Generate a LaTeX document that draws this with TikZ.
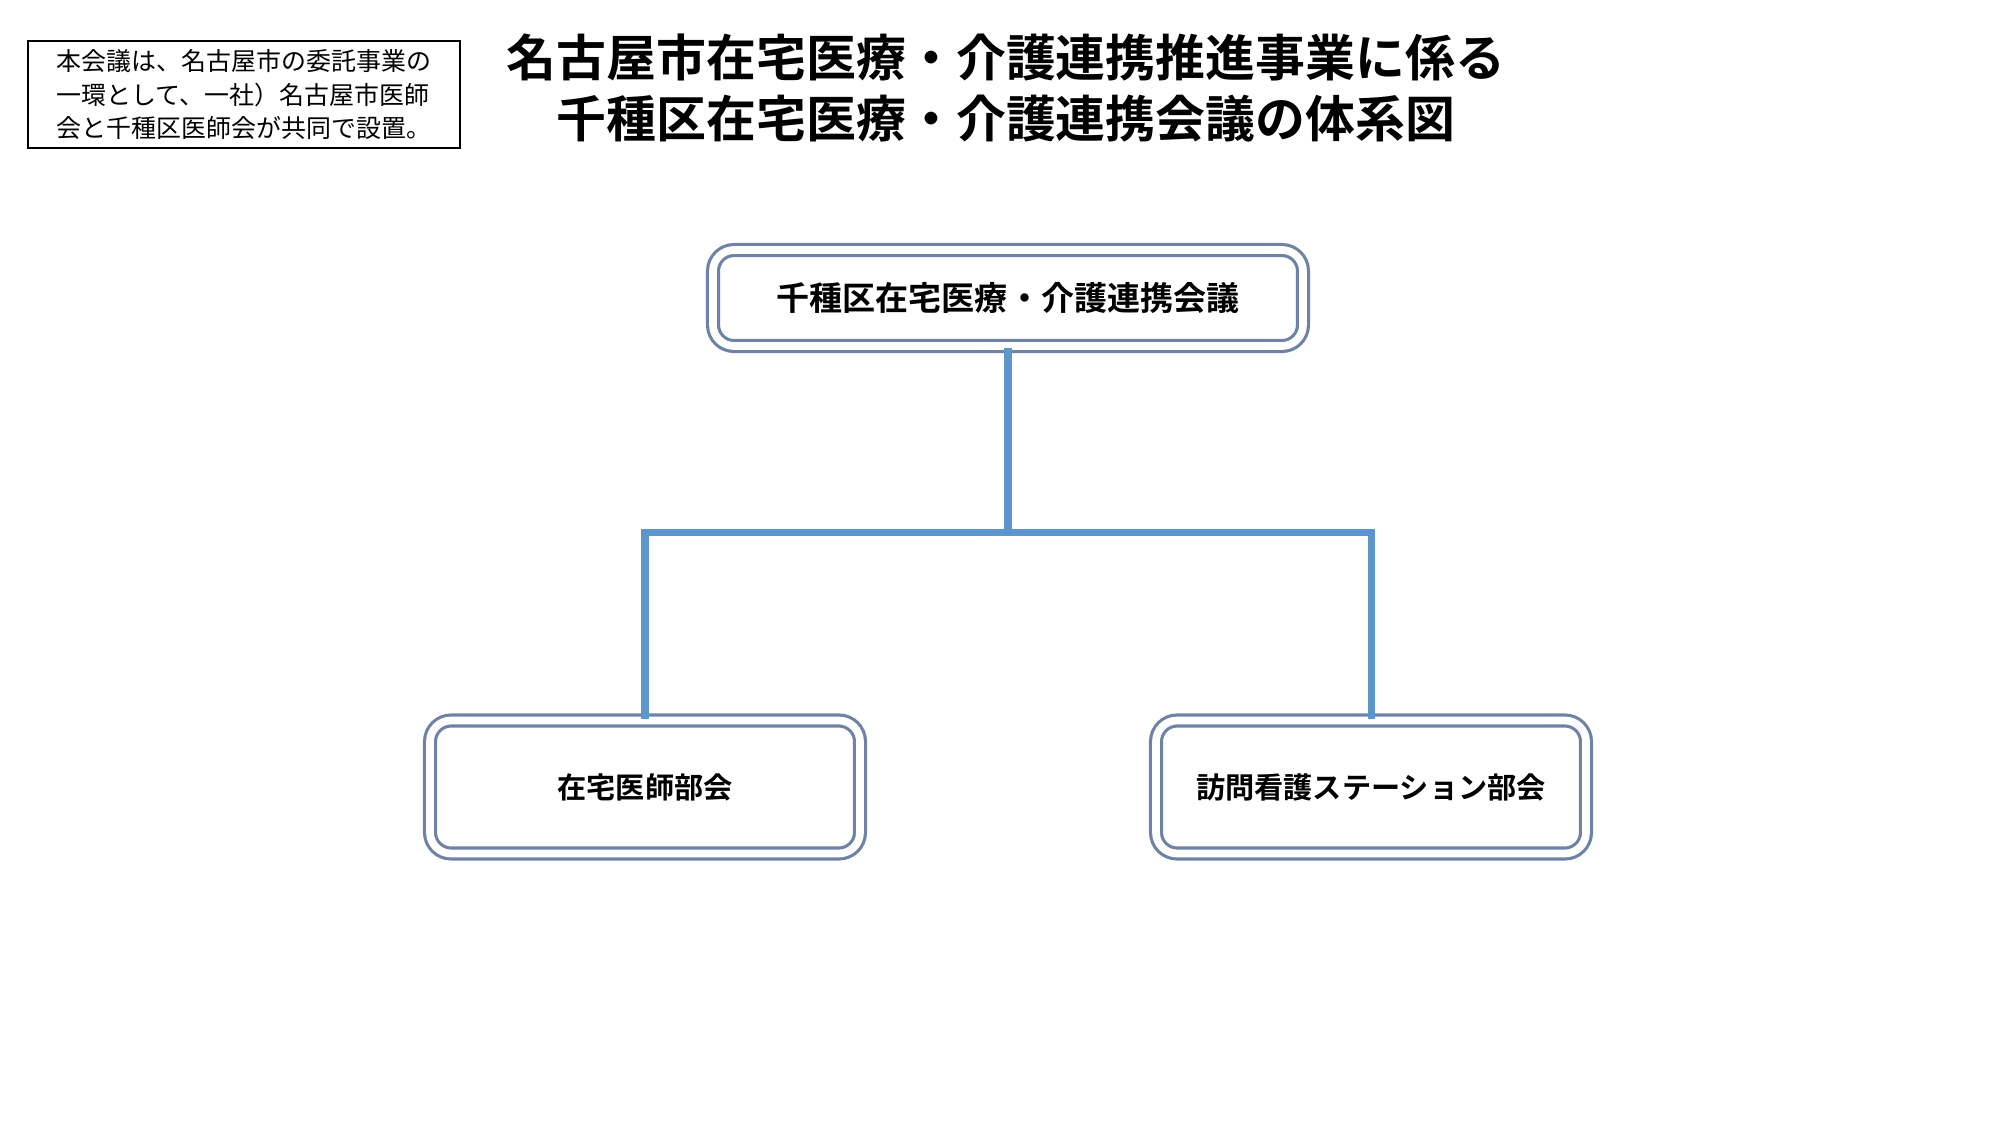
\documentclass[tikz,border=0pt]{standalone}
\usepackage{fontspec}
\newfontfamily\jpfont{Noto Sans CJK JP}
\newfontfamily\jpbold{Noto Sans CJK JP Bold}
\definecolor{linkblue}{RGB}{91,150,205}
\definecolor{framegray}{RGB}{110,130,165}
\tikzset{
  unitbox/.style={draw=framegray,double=white,double distance=2.2pt,line width=0.9pt,
    rounded corners=6pt,align=center,font=\jpbold},
  link/.style={draw=linkblue,line width=2pt}
}
\begin{document}
\begin{tikzpicture}
  \useasboundingbox (0,0) rectangle (20,-11.25);
  % note and title
  \node[draw,line width=0.6pt,minimum width=4.32cm,minimum height=1.07cm,inner sep=2pt,
        align=left,font=\jpfont\fontsize{7.1}{9.4}\selectfont] (note) at (2.44,-0.945)
    {本会議は、名古屋市の委託事業の\\一環として、一社）名古屋市医師\\会と千種区医師会が共同で設置。};
  \node[align=center,font=\jpbold\fontsize{14.2}{17.2}\selectfont] (title) at (10.06,-0.88)
    {名古屋市在宅医療・介護連携推進事業に係る\\千種区在宅医療・介護連携会議の体系図};
  % boxes
  \node[unitbox,minimum width=5.9cm,minimum height=0.96cm,font=\jpbold\fontsize{9.4}{11}\selectfont]
    (kaigi) at (10.08,-2.98) {千種区在宅医療・介護連携会議};
  \node[unitbox,minimum width=4.3cm,minimum height=1.33cm,font=\jpbold\fontsize{8.3}{10}\selectfont]
    (ishi) at (6.45,-7.87) {在宅医師部会};
  \node[unitbox,minimum width=4.3cm,minimum height=1.33cm,font=\jpbold\fontsize{8.3}{10}\selectfont]
    (houkan) at (13.71,-7.87) {訪問看護ステーション部会};
  % connectors
  \coordinate (fork) at (10.08,-5.32);
  \draw[link] (kaigi.south) -- (fork);
  \draw[link] (ishi.north) |- (fork) -| (houkan.north);
\end{tikzpicture}
\end{document}
